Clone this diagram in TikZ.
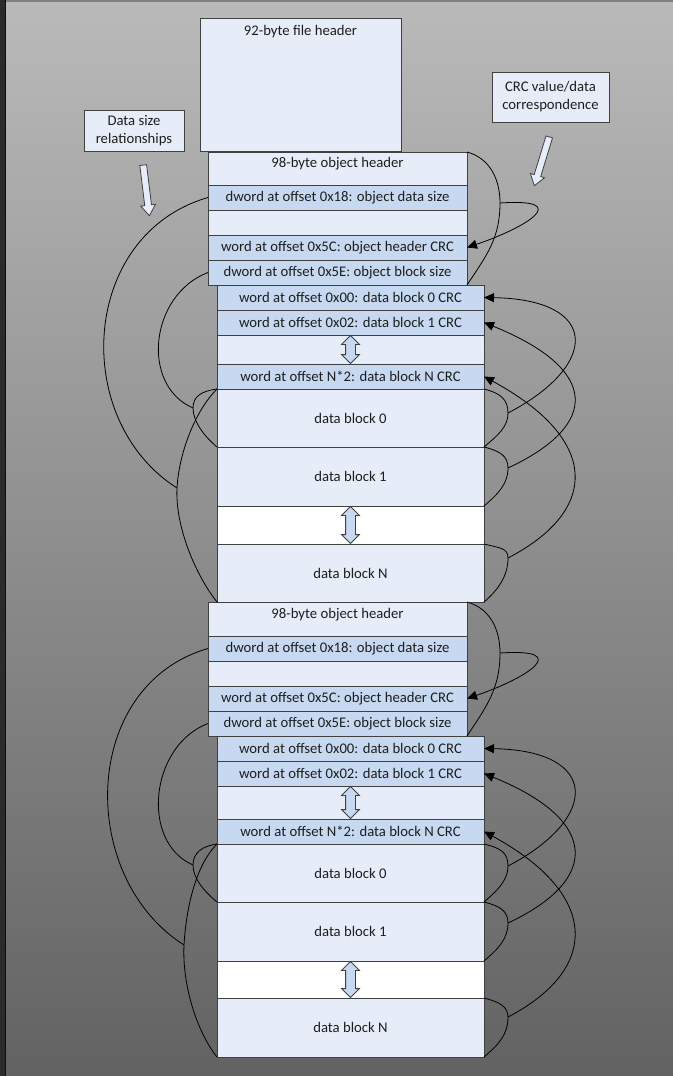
\documentclass[tikz,border=0pt]{standalone}
\usepackage{fontspec}
\setmainfont{Carlito}
\usetikzlibrary{positioning,shapes.arrows,arrows.meta}
\definecolor{bgtop}{RGB}{186,186,186}
\definecolor{bgbottom}{RGB}{98,98,98}
\definecolor{blockcolor}{RGB}{230,237,248}
\definecolor{fieldcolor}{RGB}{198,217,241}
\definecolor{edgecolor}{RGB}{64,64,64}
\definecolor{labelcolor}{RGB}{30,30,30}

\begin{document}
\begin{tikzpicture}[
    x=1pt, y=-1pt,
    node distance=0pt,
    every node/.style={font=\fontsize{14.7}{18}\selectfont, text=labelcolor},
    block/.style={rectangle, fill=blockcolor, draw=edgecolor, line width=1pt, outer sep=0pt, inner sep=0pt, align=center},
    hdrrow/.style={block, minimum width=259pt, minimum height=25pt},
    hdrfield/.style={hdrrow, fill=fieldcolor},
    hdrtop/.style={hdrrow, text depth=12pt},
    datarow/.style={block, minimum width=267pt, minimum height=25pt},
    datafield/.style={datarow, fill=fieldcolor},
    note/.style={block},
    pointer/.style={single arrow, draw=edgecolor, fill=blockcolor, line width=0.8pt, inner sep=3pt, minimum width=0pt, single arrow head extend=4pt, single arrow tip angle=70, minimum height=51pt},
    skip/.style={double arrow, draw=edgecolor, fill=fieldcolor, line width=0.8pt, rotate=90, inner sep=4.5pt, minimum width=0pt, double arrow head extend=4pt},
    link/.style={line width=0.8pt, black},
    crc/.style={link, -{Triangle[length=10pt,width=9pt]}}
]
\useasboundingbox (0,0) rectangle (672,1076);

% Background
\shade[top color=bgtop, bottom color=bgbottom] (0,-2) rectangle (680,1080);
\fill[black!83] (0,-2) rectangle (6,1080);
\draw[black!95, line width=1.2pt] (5.4,-2) -- (5.4,1080);
\draw[black!50, line width=1.5pt] (6,0.75) -- (680,0.75);

% File header and legend boxes
\node[block, minimum width=201pt, minimum height=133pt, anchor=north west,
      label={[anchor=north, yshift=-4pt]north:92-byte file header}] (FH) at (200,18) {};
\node[note, minimum width=100pt, minimum height=41pt] (NS) at (134,130.5) {Data size\\relationships};
\node[note, minimum width=117pt, minimum height=50pt] (NC) at (550.5,97) {CRC value/data\\correspondence};
\node[pointer, rotate=-83] (PS) at (146,188) {};
\node[pointer, rotate=-107] (PC) at (542.5,159) {};

% First object - header
\node[hdrtop, minimum height=33pt, anchor=north west] (OH1) at (208,152) {98-byte object header};
\node[hdrfield, below=of OH1] (DS1) {dword at offset 0x18: object data size};
\node[hdrrow, below=of DS1] (EH1) {};
\node[hdrfield, below=of EH1] (HC1) {word at offset 0x5C: object header CRC};
\node[hdrfield, below=of HC1] (BS1) {dword at offset 0x5E: object block size};

% First object - CRC table and data blocks
\node[datafield, below right=0pt and 9pt of BS1.south west] (C01) {word at offset 0x00: data block 0 CRC};
\node[datafield, below=of C01] (C11) {word at offset 0x02: data block 1 CRC};
\node[datarow, below=of C11, minimum height=29pt] (EC1) {};
\node[datafield, below=of EC1] (CN1) {word at offset N*2: data block N CRC};
\node[datarow, below=of CN1, minimum height=58pt] (D01) {data block 0};
\node[datarow, below=of D01, minimum height=59pt] (D11) {data block 1};
\node[datarow, below=of D11, minimum height=38pt, fill=white] (W1) {};
\node[datarow, below=of W1, minimum height=58pt] (DN1) {data block N};
\node[skip, minimum height=28pt] (SK1) at (EC1) {};
\node[skip, minimum height=37pt] (SW1) at (W1) {};

% Second object - header
\node[hdrtop, minimum height=34pt, anchor=north west] (OH2) at ([xshift=-9pt]DN1.south west) {98-byte object header};
\node[hdrfield, below=of OH2] (DS2) {dword at offset 0x18: object data size};
\node[hdrrow, below=of DS2] (EH2) {};
\node[hdrfield, below=of EH2] (HC2) {word at offset 0x5C: object header CRC};
\node[hdrfield, below=of HC2] (BS2) {dword at offset 0x5E: object block size};

% Second object - CRC table and data blocks
\node[datafield, below right=0pt and 9pt of BS2.south west] (C02) {word at offset 0x00: data block 0 CRC};
\node[datafield, below=of C02] (C12) {word at offset 0x02: data block 1 CRC};
\node[datarow, below=of C12, minimum height=33pt] (EC2) {};
\node[datafield, below=of EC2] (CN2) {word at offset N*2: data block N CRC};
\node[datarow, below=of CN2, minimum height=58pt] (D02) {data block 0};
\node[datarow, below=of D02, minimum height=59pt] (D12) {data block 1};
\node[datarow, below=of D12, minimum height=37pt, fill=white] (W2) {};
\node[datarow, below=of W2, minimum height=59pt] (DN2) {data block N};
\node[skip, minimum height=32pt] (SK2) at (EC2) {};
\node[skip, minimum height=36pt] (SW2) at (W2) {};

% Bracket apexes
\coordinate (HA1) at (500,203);
\coordinate (B01) at (508,413);
\coordinate (B11) at (508,468);
\coordinate (BN1) at (508,558);
\coordinate (L1) at (177,488);
\coordinate (L01) at (193,408);
\coordinate (HA2) at (500,653);
\coordinate (B02) at (508,866);
\coordinate (B12) at (508,923);
\coordinate (BN2) at (508,1017);
\coordinate (L2) at (184,945);
\coordinate (L02) at (193,865);

% First object - CRC links (right side)
\draw[link] (OH1.north east) .. controls +(22,6) and +(0,-25) .. (HA1) .. controls +(0,35) and +(20,-30) .. (BS1.south east);
\draw[crc] (HA1) .. controls +(75,-5) and +(58,-19.5) .. (HC1.east);
\draw[link] (D01.north east) .. controls +(16,4) and +(0,-14) .. (B01) .. controls +(0,14) and +(14,-12) .. (D01.south east);
\draw[link] (D11.north east) .. controls +(16,4) and +(0,-12) .. (B11) .. controls +(0,16) and +(14,-12) .. (D11.south east);
\draw[link] (DN1.north east) .. controls +(16,4) and +(0,-10) .. (BN1) .. controls +(0,18) and +(14,-12) .. (DN1.south east);
\draw[crc] (B01) .. controls +(92,-48) and +(116,2) .. (C01.east);
\draw[crc] (B11) .. controls +(92,-43) and +(116,47) .. (C11.east);
\draw[crc] (BN1) .. controls +(92,-48) and +(116,63) .. (CN1.east);

% First object - size links (left side)
\draw[link] (D01.north west) .. controls +(-22,22) and +(2,-35) .. (L1) .. controls +(-2,40) and +(-20,-25) .. (DN1.south west);
\draw[link] (D01.north west) .. controls +(-15,2) and +(0,-12) .. (L01) .. controls +(0,14) and +(-12,-10) .. (D01.south west);
\draw[link] (DS1.west) .. controls +(-128,37) and +(-107,-68) .. (L1);
\draw[link] (BS1.west) .. controls +(-58,22) and +(-53,-23) .. (L01);

% Second object - CRC links (right side)
\draw[link] (OH2.north east) .. controls +(22,6) and +(0,-25) .. (HA2) .. controls +(0,35) and +(20,-30) .. (BS2.south east);
\draw[crc] (HA2) .. controls +(75,-5) and +(58,-19.5) .. (HC2.east);
\draw[link] (D02.north east) .. controls +(16,4) and +(0,-14) .. (B02) .. controls +(0,14) and +(14,-12) .. (D02.south east);
\draw[link] (D12.north east) .. controls +(16,4) and +(0,-12) .. (B12) .. controls +(0,16) and +(14,-12) .. (D12.south east);
\draw[link] (DN2.north east) .. controls +(16,4) and +(0,-10) .. (BN2) .. controls +(0,18) and +(14,-12) .. (DN2.south east);
\draw[crc] (B02) .. controls +(92,-48) and +(116,2) .. (C02.east);
\draw[crc] (B12) .. controls +(92,-43) and +(116,47) .. (C12.east);
\draw[crc] (BN2) .. controls +(92,-48) and +(116,63) .. (CN2.east);

% Second object - size links (left side)
\draw[link] (D02.north west) .. controls +(-22,22) and +(2,-35) .. (L2) .. controls +(-2,40) and +(-20,-25) .. (DN2.south west);
\draw[link] (D02.north west) .. controls +(-15,2) and +(0,-12) .. (L02) .. controls +(0,14) and +(-12,-10) .. (D02.south west);
\draw[link] (DS2.west) .. controls +(-128,37) and +(-107,-68) .. (L2);
\draw[link] (BS2.west) .. controls +(-58,22) and +(-53,-23) .. (L02);

\end{tikzpicture}
\end{document}
